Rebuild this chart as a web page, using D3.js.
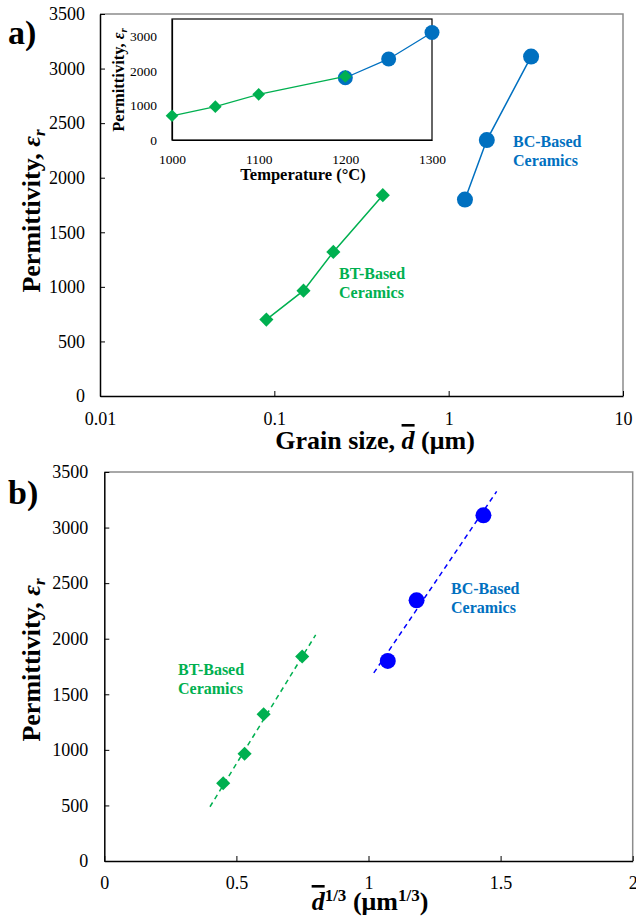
<!DOCTYPE html>
<html>
<head>
<meta charset="utf-8">
<script src="https://cdn.jsdelivr.net/npm/d3@7"></script>
<style>
  body { margin: 0; background: #fff; }
  svg text { font-family: "Liberation Serif", "Times New Roman", serif; }
</style>
</head>
<body>
<div id="chart"></div>
<script>
// values
const btTemp = [1000, 1050, 1100, 1200];
const bcTemp = [1200, 1250, 1300];
const btPerm = [700, 965, 1320, 1840];
const bcPerm = [1800, 2345, 3110];
const btGrain = [0.090, 0.147, 0.218, 0.419];
const bcGrain = [1.24, 1.655, 2.97];
const btGrainCbrt = [0.45, 0.531, 0.603, 0.749];
const bcGrainCbrt = [1.073, 1.182, 1.435];
// dashed trend lines in b), end points
const btFitX = [0.40, 0.80];
const btFitY = [488, 2035];
const bcFitX = [1.02, 1.485];
const bcFitY = [1692, 3325];

const permTicks = [0, 500, 1000, 1500, 2000, 2500, 3000, 3500];
const grainTicks = [0.01, 0.1, 1, 10];
const cbrtTicks = [0, 0.5, 1, 1.5, 2];
const tempTicks = [1000, 1100, 1200, 1300];
const insetPermTicks = [0, 1000, 2000, 3000];

const green = "#00B050", blueA = "#0070C0", blueB = "#0000FF";
const serif = '"Liberation Serif", "Times New Roman", serif';
const plain = d => String(d);

const svg = d3.select("#chart").append("svg")
    .attr("width", 636).attr("height", 922);

function zip(xs, ys) { return xs.map((v, i) => ({ x: v, y: ys[i] })); }

function diamonds(g, pts, x, y, size, color) {
    g.selectAll(null).data(pts).enter().append("path")
        .attr("d", d3.symbol().type(d3.symbolSquare).size(size))
        .attr("transform", d => "translate(" + x(d.x) + "," + y(d.y) + ") rotate(45)")
        .attr("fill", color);
}

function circles(g, pts, x, y, r, color) {
    g.selectAll(null).data(pts).enter().append("circle")
        .attr("cx", d => x(d.x)).attr("cy", d => y(d.y)).attr("r", r)
        .attr("fill", color);
}

function styleAxis(sel, size, width) {
    sel.attr("font-family", serif).attr("font-size", size);
    sel.select(".domain").attr("stroke-width", width);
    sel.selectAll(".tick line").attr("stroke-width", 1);
}

// plot frame: black left/bottom axes, grey top/right border
function frame(g, x, y, xAxis, yAxis, size) {
    let [x0, x1] = x.range(), [y0, y1] = y.range();
    g.append("path")
        .attr("d", "M" + x0 + "," + y1 + "H" + x1 + "V" + y0)
        .attr("fill", "none").attr("stroke", "#8c8c8c").attr("stroke-width", 1.5);
    g.append("g").attr("transform", "translate(0," + y0 + ")")
        .call(xAxis).call(styleAxis, size, 1.5);
    g.append("g").attr("transform", "translate(" + x0 + ",0)")
        .call(yAxis).call(styleAxis, size, 1.5);
}

function yTitle(g, tx, ty, size) {
    let t = g.append("text")
        .attr("transform", "translate(" + tx + "," + ty + ") rotate(-90)")
        .attr("text-anchor", "middle").attr("font-weight", "bold").attr("font-size", size);
    t.append("tspan").text("Permittivity, ");
    t.append("tspan").attr("font-style", "italic").text("ε");
    t.append("tspan").attr("font-style", "italic").attr("font-size", size * 0.65)
        .attr("dy", size * 0.2).text("r");
}

function label(g, lines, tx, ty, color) {
    let t = g.append("text").attr("font-weight", "bold").attr("font-size", 16).attr("fill", color);
    lines.forEach((s, i) => t.append("tspan").attr("x", tx).attr("y", ty + i * 19).text(s));
}

// ---------- a) ----------
const a = svg.append("g");
const xA = d3.scaleLog().domain([0.01, 10]).range([100, 623]);
const yA = d3.scaleLinear().domain([0, 3500]).range([396, 14]);

frame(a, xA, yA,
    d3.axisBottom(xA).tickValues(grainTicks).tickFormat(plain)
        .tickSizeInner(-5).tickSizeOuter(0).tickPadding(16),
    d3.axisLeft(yA).tickValues(permTicks).tickFormat(plain)
        .tickSizeInner(-5).tickSizeOuter(0).tickPadding(15),
    18);

let lineA = d3.line().x(d => xA(d.x)).y(d => yA(d.y));
a.append("path").attr("d", lineA(zip(btGrain, btPerm)))
    .attr("fill", "none").attr("stroke", green).attr("stroke-width", 1.5);
a.append("path").attr("d", lineA(zip(bcGrain, bcPerm)))
    .attr("fill", "none").attr("stroke", blueA).attr("stroke-width", 1.5);
diamonds(a, zip(btGrain, btPerm), xA, yA, 100, green);
circles(a, zip(bcGrain, bcPerm), xA, yA, 8, blueA);

label(a, ["BT-Based", "Ceramics"], 339, 279, green);
label(a, ["BC-Based", "Ceramics"], 513, 147, blueA);

yTitle(a, 40, 211, 26);
let xtA = a.append("text").attr("x", 375).attr("y", 449).attr("text-anchor", "middle")
    .attr("font-weight", "bold").attr("font-size", 26);
xtA.append("tspan").text("Grain size, ");
xtA.append("tspan").attr("font-style", "italic").style("text-decoration", "overline").text("d");
xtA.append("tspan").text(" (μm)");

a.append("text").attr("x", 8).attr("y", 44).attr("font-weight", "bold")
    .attr("font-size", 34).text("a)");

// inset
const ins = a.append("g");
const xI = d3.scaleLinear().domain([1000, 1300]).range([172, 432]);
const yI = d3.scaleLinear().domain([0, 3500]).range([140, 19]);
ins.append("rect").attr("x", 172).attr("y", 19).attr("width", 260).attr("height", 121)
    .attr("fill", "#fff").attr("stroke", "#000").attr("stroke-width", 1.2);
ins.append("g").attr("transform", "translate(0,140)")
    .call(d3.axisBottom(xI).tickValues(tempTicks).tickFormat(plain).tickSize(0).tickPadding(14))
    .call(styleAxis, 13.5, 1.2);
ins.append("g").attr("transform", "translate(172,0)")
    .call(d3.axisLeft(yI).tickValues(insetPermTicks).tickFormat(plain).tickSize(0).tickPadding(15))
    .call(styleAxis, 13.5, 1.2);

let lineI = d3.line().x(d => xI(d.x)).y(d => yI(d.y));
ins.append("path").attr("d", lineI(zip(bcTemp, bcPerm)))
    .attr("fill", "none").attr("stroke", blueA).attr("stroke-width", 1.3);
circles(ins, zip(bcTemp, bcPerm), xI, yI, 7.5, blueA);
ins.append("path").attr("d", lineI(zip(btTemp, btPerm)))
    .attr("fill", "none").attr("stroke", green).attr("stroke-width", 1.3);
diamonds(ins, zip(btTemp, btPerm), xI, yI, 80, green);

yTitle(ins, 124, 80, 16.5);
ins.append("text").attr("x", 303).attr("y", 180).attr("text-anchor", "middle")
    .attr("font-weight", "bold").attr("font-size", 16.5).text("Temperature (°C)");

// ---------- b) ----------
const b = svg.append("g");
const xB = d3.scaleLinear().domain([0, 2]).range([104.3, 632.7]);
const yB = d3.scaleLinear().domain([0, 3500]).range([861, 472]);

frame(b, xB, yB,
    d3.axisBottom(xB).tickValues(cbrtTicks).tickFormat(plain)
        .tickSizeInner(-5).tickSizeOuter(0).tickPadding(15),
    d3.axisLeft(yB).tickValues(permTicks).tickFormat(plain)
        .tickSizeInner(-5).tickSizeOuter(0).tickPadding(16),
    18);

let lineB = d3.line().x(d => xB(d.x)).y(d => yB(d.y));
b.append("path").attr("d", lineB(zip(btFitX, btFitY)))
    .attr("fill", "none").attr("stroke", green).attr("stroke-width", 1.5)
    .attr("stroke-dasharray", "5,4");
b.append("path").attr("d", lineB(zip(bcFitX, bcFitY)))
    .attr("fill", "none").attr("stroke", blueB).attr("stroke-width", 1.5)
    .attr("stroke-dasharray", "5,4");
diamonds(b, zip(btGrainCbrt, btPerm), xB, yB, 100, green);
circles(b, zip(bcGrainCbrt, bcPerm), xB, yB, 8, blueB);

label(b, ["BT-Based", "Ceramics"], 178, 675, green);
label(b, ["BC-Based", "Ceramics"], 451, 594, blueA);

yTitle(b, 40, 660, 26);
let xtB = b.append("text").attr("x", 370).attr("y", 910).attr("text-anchor", "middle")
    .attr("font-weight", "bold").attr("font-size", 26);
xtB.append("tspan").attr("font-style", "italic").style("text-decoration", "overline").text("d");
xtB.append("tspan").attr("font-size", 17).attr("dy", -9).text("1/3");
xtB.append("tspan").attr("dy", 9).text(" (μm");
xtB.append("tspan").attr("font-size", 17).attr("dy", -9).text("1/3");
xtB.append("tspan").attr("dy", 9).text(")");

b.append("text").attr("x", 8).attr("y", 504).attr("font-weight", "bold")
    .attr("font-size", 34).text("b)");
</script>
</body>
</html>
